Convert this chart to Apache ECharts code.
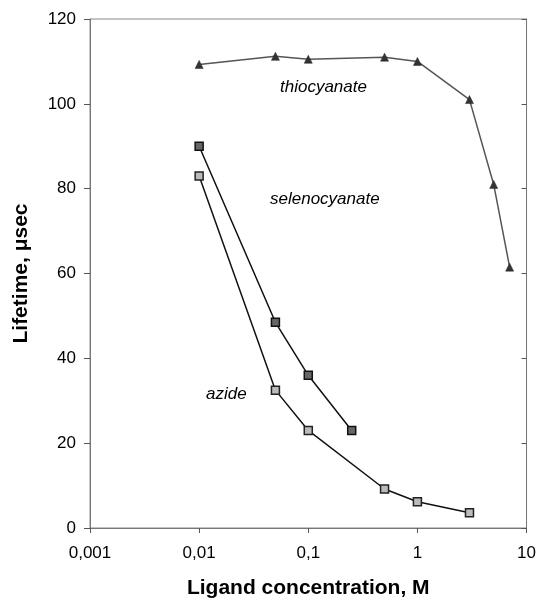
<!DOCTYPE html>
<html>
<head>
<meta charset="utf-8">
<script src="https://cdn.jsdelivr.net/npm/echarts@6/dist/echarts.min.js"></script>
<style>html,body{margin:0;padding:0;background:#fff}#c{width:539px;height:604px}</style>
</head>
<body>
<div id="c"></div>
<script>
const thioX = [0.01, 0.05, 0.1, 0.5, 1, 3, 5, 7];
const thioY = [109.3, 111.2, 110.5, 111, 110, 101, 81, 61.5];
const selenoX = [0.01, 0.05, 0.1, 0.25];
const selenoY = [90, 48.5, 36, 23];
const azideX = [0.01, 0.05, 0.1, 0.5, 1, 3];
const azideY = [83, 32.5, 23, 9.2, 6.2, 3.6];
const yTicks = [0, 20, 40, 60, 80, 100, 120];
const seriesNames = ['thiocyanate', 'selenocyanate', 'azide'];

const pair = (xs, ys) => xs.map((x, i) => [x, ys[i]]);
const fmtX = v => String(Number(Number(v).toPrecision(6))).replace('.', ',');
const FONT = 'Liberation Sans, Arial, sans-serif';

const chart = echarts.init(document.getElementById('c'), null, {renderer: 'canvas'});
const baseX = {
  type: 'log', logBase: 10, min: 0.001, max: 10, gridIndex: 0,
  splitLine: {show: false}, axisLine: {lineStyle: {color: '#777', width: 1}}
};
const baseY = {
  type: 'value', min: 0, max: 120, interval: 20, gridIndex: 0,
  splitLine: {show: false}, axisLine: {lineStyle: {color: '#777', width: 1}}
};
chart.setOption({
  animation: false,
  backgroundColor: '#fff',
  grid: {left: 90, right: 11, top: 19, bottom: 70, show: true, borderColor: '#888', borderWidth: 1},
  xAxis: [
    Object.assign({}, baseX, {
      name: 'Ligand concentration, M', nameLocation: 'middle', nameGap: 50,
      nameTextStyle: {fontFamily: FONT, fontWeight: 'bold', fontSize: 21, color: '#000'},
      axisTick: {show: true, inside: false, length: 5, lineStyle: {color: '#555'}},
      axisLabel: {formatter: fmtX, fontFamily: FONT, fontSize: 17, color: '#000', margin: 17}
    }),
    Object.assign({}, baseX, {
      axisTick: {show: true, inside: true, length: 5, lineStyle: {color: '#555'}},
      axisLabel: {show: false}
    })
  ],
  yAxis: [
    Object.assign({}, baseY, {
      name: 'Lifetime, μsec', nameLocation: 'middle', nameGap: 58, nameRotate: 90,
      nameTextStyle: {fontFamily: FONT, fontWeight: 'bold', fontSize: 21, color: '#000'},
      axisTick: {show: true, inside: false, length: 6, lineStyle: {color: '#555'}},
      axisLabel: {fontFamily: FONT, fontSize: 17, color: '#000', margin: 14,
        formatter: v => yTicks.includes(v) ? String(v) : ''}
    }),
    Object.assign({}, baseY, {
      axisTick: {show: true, inside: true, length: 5, lineStyle: {color: '#555'}},
      axisLabel: {show: false}
    })
  ],
  series: [
    {
      name: seriesNames[0], type: 'line', data: pair(thioX, thioY),
      symbol: 'triangle', symbolSize: 8,
      lineStyle: {color: '#555', width: 1.5},
      itemStyle: {color: '#333', borderColor: '#222', borderWidth: 0.5}
    },
    {
      name: seriesNames[1], type: 'line', data: pair(selenoX, selenoY),
      symbol: 'rect', symbolSize: 8,
      lineStyle: {color: '#111', width: 1.5},
      itemStyle: {color: '#666', borderColor: '#111', borderWidth: 1.5}
    },
    {
      name: seriesNames[2], type: 'line', data: pair(azideX, azideY),
      symbol: 'rect', symbolSize: 8,
      lineStyle: {color: '#111', width: 1.5},
      itemStyle: {color: '#bbb', borderColor: '#222', borderWidth: 1.5}
    }
  ],
  graphic: [
    {type: 'text', left: 280, top: 79, style: {text: seriesNames[0], font: 'italic 17px ' + FONT, fill: '#000'}},
    {type: 'text', left: 270, top: 191, style: {text: seriesNames[1], font: 'italic 17px ' + FONT, fill: '#000'}},
    {type: 'text', left: 206, top: 386, style: {text: seriesNames[2], font: 'italic 17px ' + FONT, fill: '#000'}}
  ]
});
</script>
</body>
</html>
